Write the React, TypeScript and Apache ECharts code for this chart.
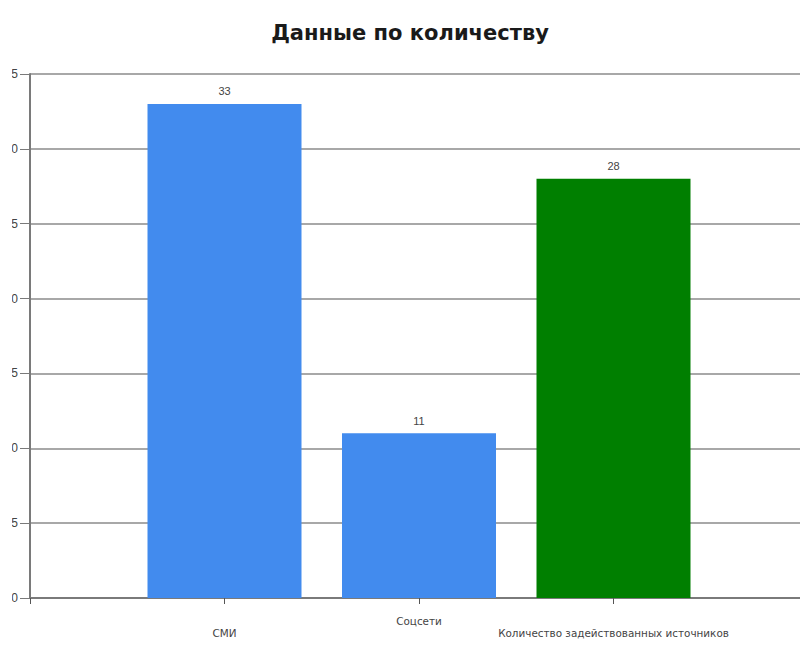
import React, { useEffect, useRef } from "react";
import * as echarts from "echarts";

const categories = ["", "СМИ", "Соцсети", "Количество задействованных источников", ""];
const values = [null, 33, 11, 28, null];
const barColors = ["#428BEE", "#428BEE", "#428BEE", "#007F00", "#428BEE"];

export default function App() {
  const ref = useRef<HTMLDivElement>(null);
  useEffect(() => {
    if (!ref.current) return;
    const chart = echarts.init(ref.current, null, { renderer: "svg" });
    chart.setOption({
      animation: false,
      backgroundColor: "#ffffff",
      title: {
        text: "Данные по количеству",
        left: 417,
        textAlign: "center",
        top: 17,
        textStyle: {
          fontFamily: "DejaVu Sans, sans-serif",
          fontSize: 21,
          fontWeight: "bold",
          color: "#1a1a1a",
        },
      },
      grid: { left: 42, top: 74, bottom: 68, width: 778 },
      xAxis: {
        type: "category",
        data: categories,
        boundaryGap: false,
        axisLine: { show: true, lineStyle: { color: "#7a7a7a", width: 2 } },
        axisTick: { show: true, length: 6, lineStyle: { color: "#555", width: 1 } },
        axisLabel: {
          interval: 0,
          margin: 17,
          fontFamily: "DejaVu Sans, sans-serif",
          fontSize: 10.4,
          lineHeight: 12,
          color: "#444",
          formatter: (v: string, i: number) => (i % 2 === 1 ? "\n" + v : v),
        },
        splitLine: { show: false },
      },
      yAxis: {
        type: "value",
        min: 0,
        max: 35,
        interval: 5,
        axisLine: { show: true, lineStyle: { color: "#7a7a7a", width: 2 } },
        axisTick: { show: true, length: 10, lineStyle: { color: "#7a7a7a", width: 1 } },
        axisLabel: {
          margin: 12,
          fontFamily: "Liberation Sans, Arial, sans-serif",
          fontSize: 12,
          color: "#444",
        },
        splitLine: { show: true, lineStyle: { color: "#a8a8a8", width: 2 } },
      },
      series: [
        {
          type: "bar",
          data: values.map((v, i) => ({ value: v, itemStyle: { color: barColors[i] } })),
          barWidth: 154,
          label: {
            show: true,
            position: "top",
            distance: 7,
            fontFamily: "Liberation Sans, Arial, sans-serif",
            fontSize: 11,
            color: "#444",
          },
        },
      ],
    });
    return () => chart.dispose();
  }, []);
  return (
    <div
      style={{
        position: "fixed",
        left: 0,
        top: 0,
        width: 800,
        height: 666,
        overflow: "hidden",
        background: "#fff",
      }}
    >
      <div ref={ref} style={{ position: "absolute", left: -12, top: 0, width: 840, height: 666 }} />
      <div style={{ position: "absolute", left: 0, top: 0, width: 12, height: 666, background: "#fff" }} />
    </div>
  );
}
